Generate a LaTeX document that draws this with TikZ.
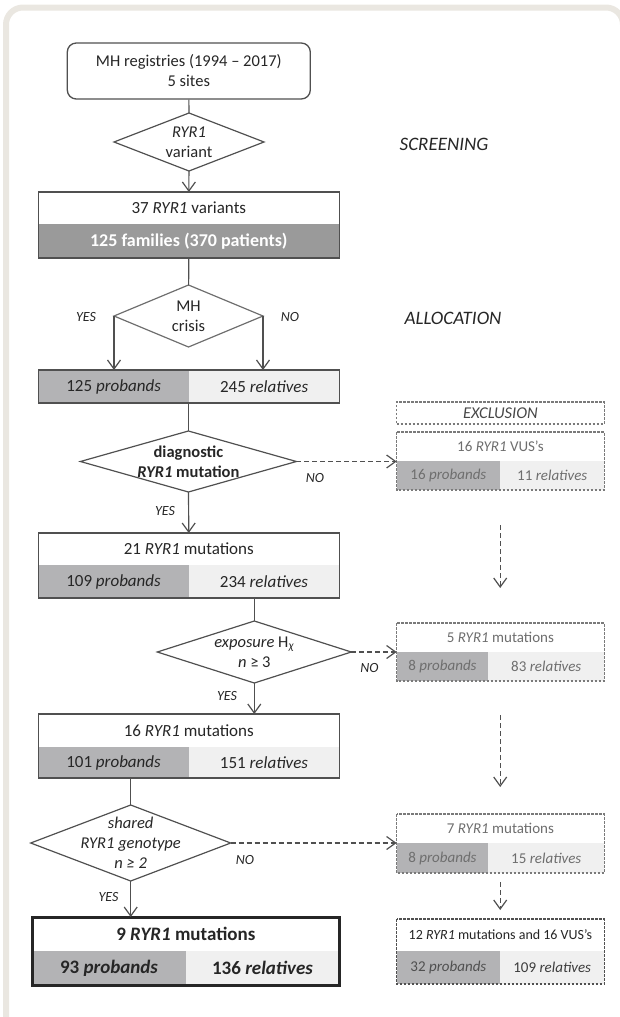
\documentclass[tikz,border=0pt]{standalone}
\usepackage{fontspec}
\setmainfont{Carlito}
\usetikzlibrary{positioning,shapes.geometric,arrows.meta}
\definecolor{panelgray}{HTML}{EAE7E1}
\definecolor{framegray}{HTML}{505050}
\definecolor{inkgray}{HTML}{262626}
\definecolor{familyfill}{HTML}{9A9A9A}
\definecolor{probfill}{HTML}{B3B3B5}
\definecolor{relfill}{HTML}{F0F0F0}
\definecolor{softgray}{HTML}{6E6E6E}
\definecolor{dashgray}{HTML}{7A7A7A}
\tikzset{
  cell/.style={inner sep=0pt, outer sep=0pt, text=inkgray, font=\fontsize{17}{20}\selectfont},
  headcell/.style={cell, fill=white},
  famcell/.style={cell, fill=familyfill, text=white, font=\fontsize{18}{20}\selectfont\bfseries},
  probcell/.style={cell, fill=probfill},
  relcell/.style={cell, fill=relfill},
  boxframe/.style={draw=framegray, line width=1.3pt},
  exframe/.style={draw=dashgray, line width=1.1pt, dash pattern=on 2.5pt off 1.5pt},
  excell/.style={cell, text=softgray, font=\fontsize{15}{18}\selectfont},
  decide/.style={diamond, draw=framegray, line width=1.2pt, inner sep=0pt, outer sep=0pt},
  decidetext/.style={align=center, text=inkgray, font=\fontsize{16.5}{20}\selectfont, inner sep=0pt},
  flow/.style={draw=framegray, line width=1.2pt},
  flowarrow/.style={flow, -{Straight Barb[length=9pt, width=13pt]}},
  exarrow/.style={flowarrow, dash pattern=on 5pt off 3pt},
  answer/.style={font=\fontsize{14}{16}\selectfont\itshape, text=inkgray, inner sep=0pt},
  phase/.style={font=\fontsize{19}{22}\selectfont\itshape, text=inkgray, inner sep=0pt},
  finalfont/.style={font=\fontsize{19}{22}\selectfont\bfseries},
}
\begin{document}
\begin{tikzpicture}[x=1pt,y=-1pt]
\useasboundingbox (0,0) rectangle (620,1017);
% panel
\draw[panelgray, line width=6pt, rounded corners=17pt] (6,1017) -- (6,7.5) -- (623,7.5) -- (623,1017);

% left column
\node[draw=framegray, line width=1.3pt, rounded corners=9pt, minimum width=243, minimum height=56,
  align=center, text=inkgray, font=\fontsize{16.5}{20}\selectfont] (start) at (188.8,71)
  {MH registries (1994 – 2017)\\5 sites};
\node[decide, minimum width=150, minimum height=58] (d1) at (189,142) {};
\node[decidetext] (d1txt) at (d1) {\textit{RYR1}\\variant};

\node[headcell, minimum width=301, minimum height=32] (b1top) at (188.8,208) {37 \textit{RYR1} variants};
\node[famcell, minimum width=301, minimum height=34, below=0pt of b1top] (b1bot) {125 families (370 patients)};
\draw[boxframe] (b1top.north west) rectangle (b1bot.south east);

\node[decide, draw=softgray, minimum width=149, minimum height=62] (d2) at (188.5,316) {};
\node[decidetext] (d2txt) at (d2) {MH\\crisis};

\node[probcell, minimum width=150.5, minimum height=33, anchor=north west] (b2p) at (38.4,370) {125 \textit{probands}};
\node[relcell, minimum width=150.4, minimum height=33, right=0pt of b2p] (b2r) {245 \textit{relatives}};
\draw[boxframe] (b2p.north west) rectangle (b2r.south east);

\node[decide, minimum width=216, minimum height=61] (d3) at (188.4,461.5) {};
\node[decidetext, font=\fontsize{16.5}{20}\selectfont\bfseries] (d3txt) at (d3) {diagnostic\\\textit{RYR1} mutation};

\node[headcell, minimum width=301, minimum height=32] (b3top) at (188.8,549) {21 \textit{RYR1} mutations};
\node[probcell, minimum width=150.5, minimum height=33, anchor=north west] (b3p) at (b3top.south west) {109 \textit{probands}};
\node[relcell, minimum width=150.4, minimum height=33, right=0pt of b3p] (b3r) {234 \textit{relatives}};
\draw[boxframe] (b3top.north west) rectangle (b3r.south east);

\node[decide, minimum width=194, minimum height=62] (d4) at (254.3,652) {};
\node[decidetext] (d4txt) at (d4) {\textit{exposure} H\textsubscript{\textit{χ}}\\\textit{n} ≥ 3};

\node[headcell, minimum width=301, minimum height=33] (b4top) at (188.8,730.5) {16 \textit{RYR1} mutations};
\node[probcell, minimum width=150.5, minimum height=31, anchor=north west] (b4p) at (b4top.south west) {101 \textit{probands}};
\node[relcell, minimum width=150.4, minimum height=31, right=0pt of b4p] (b4r) {151 \textit{relatives}};
\draw[boxframe] (b4top.north west) rectangle (b4r.south east);

\node[decide, minimum width=200, minimum height=76] (d5) at (130.7,843) {};
\node[decidetext, font=\fontsize{16.5}{20}\selectfont\itshape] (d5txt) at (d5) {shared\\RYR1 genotype\\n ≥ 2};

\node[headcell, finalfont, minimum width=307, minimum height=34] (fintop) at (185.85,934) {9 \textit{RYR1} mutations};
\node[probcell, finalfont, minimum width=153.4, minimum height=34, anchor=north west] (finp) at (fintop.south west) {93 \textit{probands}};
\node[relcell, finalfont, minimum width=153.5, minimum height=34, right=0pt of finp] (finr) {136 \textit{relatives}};
\draw[draw=inkgray, line width=3pt] (fintop.north west) rectangle (finr.south east);

% right column
\node[phase] (screening) at (444,144) {SCREENING};
\node[phase] (allocation) at (453,318) {ALLOCATION};
\node[exframe, cell, minimum width=207.6, minimum height=22, font=\fontsize{16.5}{19}\selectfont\itshape, text=inkgray!85] (excl) at (500.4,413) {EXCLUSION};

\foreach \rid/\ry/\rhigh/\rsplit/\rhead/\rprob/\rrel in {
  r1/446.5/29/103.6/{16 \textit{RYR1} VUS’s}/{16 \textit{probands}}/{11 \textit{relatives}},
  r2/637.5/29/91.7/{5 \textit{RYR1} mutations}/{8 \textit{probands}}/{83 \textit{relatives}},
  r3/828.5/30/91.7/{7 \textit{RYR1} mutations}/{8 \textit{probands}}/{15 \textit{relatives}}}{
  \pgfmathsetmacro{\rrest}{207.6-\rsplit}
  \node[excell, fill=white, minimum width=207.6, minimum height=29] (\rid-top) at (500.4,\ry) {\rhead};
  \node[excell, fill=probfill, minimum width=\rsplit, minimum height=\rhigh, anchor=north west] (\rid-p) at (\rid-top.south west) {\rprob};
  \node[excell, fill=relfill, minimum width=\rrest, minimum height=\rhigh, right=0pt of \rid-p] (\rid-r) {\rrel};
  \draw[exframe] (\rid-top.north west) rectangle (\rid-r.south east);
}

\node[excell, fill=white, minimum width=207.6, minimum height=32, text=inkgray, font=\fontsize{14}{16}\selectfont] (r4-top) at (500.4,935) {12 \textit{RYR1} mutations and 16 VUS’s};
\node[excell, fill=probfill, minimum width=103.6, minimum height=33, anchor=north west, text=framegray] (r4-p) at (r4-top.south west) {32 \textit{probands}};
\node[excell, fill=relfill, minimum width=104, minimum height=33, right=0pt of r4-p, text=inkgray!90] (r4-r) {109 \textit{relatives}};
\draw[exframe, draw=framegray] (r4-top.north west) rectangle (r4-r.south east);

% connectors
\draw[flow] (start) -- (d1);
\draw[flowarrow] (d1) -- (b1top);
\draw[flow] (b1bot) -- (d2);
\draw[flowarrow] (d2.west) -- (d2.west |- b2p.north);
\draw[flowarrow] (d2.east) -- (d2.east |- b2r.north);
\draw[flow] (d3.north |- b2p.south) -- (d3.north);
\draw[flowarrow] (d3) -- (b3top);
\draw[exarrow] (d3.east) -- (d3.east -| r1-p.west);
\draw[flow] (d4.north |- b3p.south) -- (d4.north);
\draw[flowarrow] (d4.south) -- (d4.south |- b4top.north);
\draw[exarrow] (d4.east) -- (d4.east -| r2-p.west);
\draw[flow] (d5.north |- b4p.south) -- (d5.north);
\draw[flowarrow] (d5.south) -- (d5.south |- fintop.north);
\draw[exarrow] (d5.east) -- (d5.east -| r3-p.west);
\draw[exarrow, shorten <=35pt, shorten >=35pt] (r1-r.south west) -- (r1-r.south west |- r2-top.north);
\draw[exarrow, shorten <=34pt, shorten >=27pt] (r1-r.south west |- r2-r.south) -- (r1-r.south west |- r3-top.north);
\draw[exarrow, shorten <=9pt, shorten >=9pt] (r1-r.south west |- r3-r.south) -- (r1-r.south west |- r4-top.north);

% answers
\node[answer] (d2yes) at (86,317) {YES};
\node[answer] (d2no) at (290,317) {NO};
\node[answer] (d3no) at (315,478) {NO};
\node[answer] (d3yes) at (165,511) {YES};
\node[answer] (d4no) at (369.5,668) {NO};
\node[answer] (d4yes) at (227,696) {YES};
\node[answer] (d5no) at (245,860) {NO};
\node[answer] (d5yes) at (108.5,897) {YES};
\end{tikzpicture}
\end{document}
